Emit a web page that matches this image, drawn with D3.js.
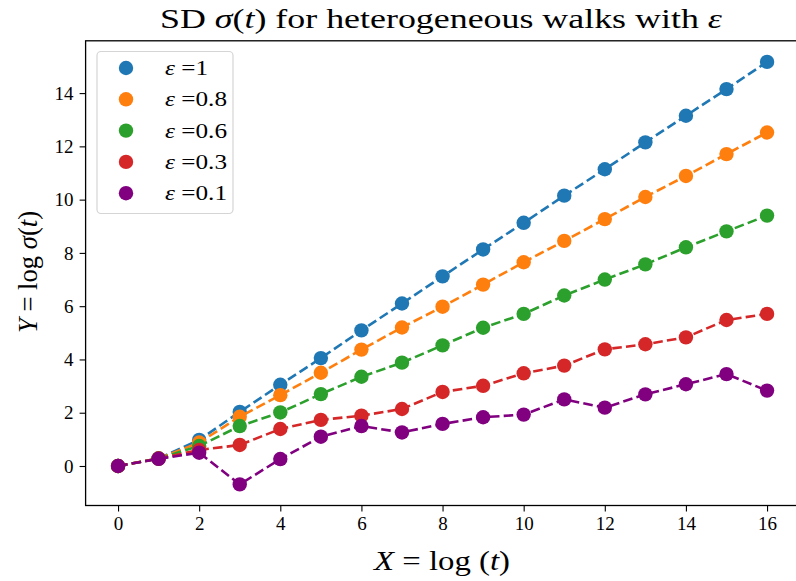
<!DOCTYPE html>
<html>
<head>
<meta charset="utf-8">
<script src="https://cdn.jsdelivr.net/npm/d3@7"></script>
<style>
  body { margin: 0; background: #fff; }
  svg { display: block; }
  text { font-family: "Liberation Serif", "DejaVu Serif", serif; fill: #000; }
</style>
</head>
<body>
<div id="chart"></div>
<script>
/**
 * DATA
 * */
const steps = [0, 1, 2, 3, 4, 5, 6, 7, 8, 9, 10, 11, 12, 13, 14, 15, 16];
const epsLabels = ["1", "0.8", "0.6", "0.3", "0.1"];
const eps1  = [0, 0.28, 0.98, 2.03, 3.05, 4.05, 5.09, 6.10, 7.12, 8.13, 9.13, 10.15, 11.14, 12.15, 13.15, 14.15, 15.17];
const eps08 = [0, 0.28, 0.88, 1.85, 2.66, 3.50, 4.37, 5.20, 5.98, 6.81, 7.65, 8.45, 9.27, 10.10, 10.89, 11.71, 12.52];
const eps06 = [0, 0.28, 0.75, 1.50, 2.01, 2.70, 3.35, 3.88, 4.53, 5.19, 5.71, 6.40, 7.00, 7.57, 8.21, 8.81, 9.40];
const eps03 = [0, 0.28, 0.60, 0.79, 1.39, 1.73, 1.89, 2.14, 2.78, 3.01, 3.48, 3.77, 4.38, 4.57, 4.83, 5.48, 5.71];
const eps01 = [0, 0.27, 0.50, -0.69, 0.26, 1.10, 1.50, 1.26, 1.58, 1.83, 1.93, 2.50, 2.19, 2.69, 3.07, 3.45, 2.83];
const xTicks = [0, 2, 4, 6, 8, 10, 12, 14, 16];
const yTicks = [0, 2, 4, 6, 8, 10, 12, 14];
const colors = ["#1f77b4", "#ff7f0e", "#2ca02c", "#d62728", "#800080"];

const series = [eps1, eps08, eps06, eps03, eps01].map((vals, i) => ({
  label: epsLabels[i],
  color: colors[i],
  points: vals.map((v, j) => ({ x: steps[j], y: v }))
}));

/**
 * CONSTANTS
 * */
const width = 796, height = 581;
const margin = { top: 40.8, bottom: 75.5, left: 85.6, right: -3.5 };

const svg = d3.select("#chart").append("svg")
  .attr("width", width)
  .attr("height", height);

// matplotlib style 5% margins around the data
const pad = (lo, hi) => { const d = (hi - lo) * 0.05; return [lo - d, hi + d]; };
const allY = series.flatMap(s => s.points.map(p => p.y));

const x = d3.scaleLinear()
  .domain(pad(d3.min(steps), d3.max(steps)))
  .range([margin.left, width - margin.right]);

const y = d3.scaleLinear()
  .domain(pad(d3.min(allY), d3.max(allY)))
  .range([height - margin.bottom, margin.top]);

// axes
const xAxis = svg.append("g")
  .attr("transform", `translate(0,${height - margin.bottom})`)
  .call(d3.axisBottom(x).tickValues(xTicks).tickSize(6).tickPadding(5).tickFormat(d3.format("d")));

const yAxis = svg.append("g")
  .attr("transform", `translate(${margin.left},0)`)
  .call(d3.axisLeft(y).tickValues(yTicks).tickSize(6).tickPadding(6).tickFormat(d3.format("d")));

[xAxis, yAxis].forEach(g => {
  g.select(".domain").remove();
  g.selectAll(".tick line").attr("stroke", "#000").attr("stroke-width", 1.1);
  g.selectAll(".tick text").attr("font-size", 19).attr("font-family", "Liberation Serif");
});

// frame
svg.append("rect")
  .attr("x", margin.left)
  .attr("y", margin.top)
  .attr("width", x.range()[1] - margin.left)
  .attr("height", y.range()[0] - margin.top)
  .attr("fill", "none")
  .attr("stroke", "#000")
  .attr("stroke-width", 1.3);

// lines + markers
const line = d3.line().x(d => x(d.x)).y(d => y(d.y));

const sg = svg.append("g").selectAll("g")
  .data(series)
  .join("g");

sg.append("path")
  .attr("d", d => line(d.points))
  .attr("fill", "none")
  .attr("stroke", d => d.color)
  .attr("stroke-width", 2.6)
  .attr("stroke-dasharray", "9.6,4.2");

sg.selectAll("circle")
  .data(d => d.points.map(p => ({ ...p, color: d.color })))
  .join("circle")
  .attr("cx", d => x(d.x))
  .attr("cy", d => y(d.y))
  .attr("r", 7.2)
  .attr("fill", d => d.color);

// legend
const legend = svg.append("g");
legend.append("rect")
  .attr("x", 97).attr("y", 51.5)
  .attr("width", 136).attr("height", 162)
  .attr("rx", 4)
  .attr("fill", "#fff").attr("fill-opacity", 0.8)
  .attr("stroke", "#d5d5d5").attr("stroke-width", 1.2);

const items = legend.selectAll("g.item")
  .data(series)
  .join("g")
  .attr("class", "item")
  .attr("transform", (d, i) => `translate(0,${68 + i * 31.3})`);

items.append("circle")
  .attr("cx", 126).attr("r", 7.2)
  .attr("fill", d => d.color);

items.append("text")
  .attr("x", 165).attr("y", 7)
  .attr("font-size", 21)
  .attr("textLength", d => d.label.length === 1 ? 43 : 62)
  .attr("lengthAdjust", "spacingAndGlyphs")
  .each(function(d) {
    const t = d3.select(this);
    t.append("tspan").attr("font-style", "italic").text("ε");
    t.append("tspan").text(" =" + d.label);
  });

// title
const title = svg.append("text")
  .attr("x", 441).attr("y", 28)
  .attr("text-anchor", "middle")
  .attr("font-size", 28)
  .attr("textLength", 562)
  .attr("lengthAdjust", "spacingAndGlyphs");
title.append("tspan").text("SD ");
title.append("tspan").attr("font-style", "italic").text("σ");
title.append("tspan").text("(");
title.append("tspan").attr("font-style", "italic").text("t");
title.append("tspan").text(") for heterogeneous walks with ");
title.append("tspan").attr("font-style", "italic").text("ε");

// x label
const xl = svg.append("text")
  .attr("x", 442).attr("y", 570)
  .attr("text-anchor", "middle")
  .attr("font-size", 28)
  .attr("textLength", 136)
  .attr("lengthAdjust", "spacingAndGlyphs");
xl.append("tspan").attr("font-style", "italic").text("X");
xl.append("tspan").text(" = log (");
xl.append("tspan").attr("font-style", "italic").text("t");
xl.append("tspan").text(")");

// y label
const yl = svg.append("text")
  .attr("transform", "translate(37,272) rotate(-90)")
  .attr("text-anchor", "middle")
  .attr("font-size", 28)
  .attr("textLength", 122)
  .attr("lengthAdjust", "spacingAndGlyphs");
yl.append("tspan").attr("font-style", "italic").text("Y");
yl.append("tspan").text(" = log ");
yl.append("tspan").attr("font-style", "italic").text("σ");
yl.append("tspan").text("(");
yl.append("tspan").attr("font-style", "italic").text("t");
yl.append("tspan").text(")");
</script>
</body>
</html>
